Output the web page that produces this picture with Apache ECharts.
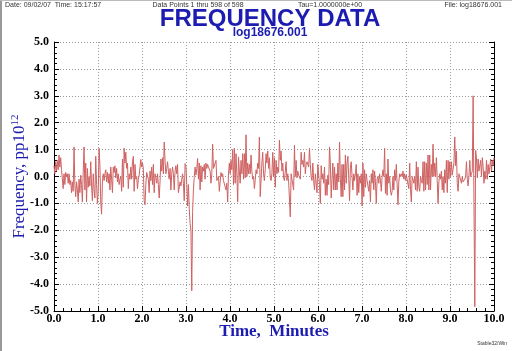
<!DOCTYPE html>
<html>
<head>
<meta charset="utf-8">
<script src="https://cdn.jsdelivr.net/npm/echarts/dist/echarts.min.js"></script>
<style>
  html, body { margin: 0; padding: 0; background: #fff; }
  #chart { width: 512px; height: 351px; }
</style>
</head>
<body>
<div id="chart"></div>
<script>
// frequency residuals, pp10^12 in four 2.5 minute quarters
const freqQ1 = [
  0.4, 0.1, 0.55, 0.2, 0.6, 0.25, 0.8, 0.35, 0.7, 0.25, 0.3, -0.45, 0.1, -0.3, 0.15, 0.0, 0.1, -0.25, 0.1, -0.3,
  -0.15, -0.6, -0.2, -0.55, 1.1, -0.3, -0.75, -0.2, -0.5, -0.95, -0.1, -0.6, 0.05, -0.3, -0.95, 0.2, 1.1, -0.5, 0.5, -0.95,
  0.3, -0.4, 0.0, -0.35, 0.55, -0.35, -0.9, 0.1, -0.5, -0.8, 0.75, -0.3, -1.0, -0.5, 1.05, 0.4, -0.95, -1.4, -0.2, 0.1,
  -0.15, 0.1, 0.25, -0.2, 0.15, -0.25, 0.1, -0.5, 0.35, -0.1, -0.6, 0.35, 0.15, 0.4, -0.05, 0.3, -0.2, 0.1, -0.3, -0.1,
  0.0, -0.55, 0.65, -0.4, 1.05, 0.5, 0.9, 0.3, 0.5, -0.45, 0.1, -0.1, 0.35, -0.1, 0.55, 0.75, -0.55, 0.45, -0.1, 0.0,
  -0.45, -0.1, 0.05, 0.0, 0.63, 0.35, 0.5, 0.3, -0.9, -1.05, -0.3, 0.15, 0.2, -0.1, -0.6, 0.2, -0.15, 0.35, -0.3, 0.45,
  -0.6, 0.1, -0.05, -0.25, 0.1, -0.3, -0.8, -0.2, 0.65, 0.2, 0.7, 0.1
]
const freqQ2 = [
  1.28, 0.6, 0.1, 0.3, 0.55, 0.2, -0.1, 0.3, -0.5, 0.1, 0.35, 0.1, -0.5, 0.2, 0.4, 0.1, 0.45, -0.6, -0.63, -0.2,
  -0.35, -0.1, 0.1, -0.25, -0.9, 0.48, 0.4, -0.3, -1.1, -0.3, -1.2, -1.75, -2.0, -4.25, -1.3, -0.5, 0.0, 0.35, 0.05, 0.3,
  0.67, -0.1, 0.5, -0.5, 0.4, -0.2, 0.35, 0.2, 0.45, -0.1, 0.5, 0.3, 0.45, 0.35, 0.3, 0.2, -0.25, 0.1, 1.2, 0.3,
  0.25, 0.5, 0.6, -0.15, -0.2, 0.0, -0.55, -0.2, 0.15, 0.0, 0.1, -0.15, -0.15, -0.1, -0.5, -0.25, -0.95, 0.1, 0.5, 0.1,
  0.6, 0.25, 1.0, -0.3, 1.05, -0.25, 0.85, 0.1, -0.95, 0.73, 0.2, -0.25, 0.6, 0.1, 0.85, -0.1, 0.85, -0.05, 1.55, 0.0,
  0.5, 0.1, 0.45, 0.1, 0.8, 0.2, -0.1, 0.0, -0.45, -0.15, 0.25, 0.1, 0.5, 0.3, 1.47, -0.75, -0.75, 0.5, 0.9, 0.1,
  -0.15, 0.25, 0.85, 0.5, 0.95, 0.3, 0.7, -0.05, -0.15, 0.1, 0.9, 0.0
]
const freqQ3 = [
  0.7, -0.4, 0.6, 0.1, 0.35, 0.15, 1.35, 0.6, 0.95, 0.2, 0.5, -0.05, -0.15, -0.2, 0.55, -0.15, 0.1, -0.2, -0.8, -1.5,
  0.1, -0.1, -0.15, -0.5, 1.16, 0.0, 0.6, -0.05, 0.2, 0.05, 0.0, -0.1, 0.9, 0.45, 0.6, 0.35, 0.9, 0.1, 0.45, 0.55,
  0.55, 0.35, 1.05, 0.45, 0.0, -0.15, 0.5, -0.15, -0.5, 0.1, 0.1, -0.6, 0.45, 0.4, -0.3, -1.0, 0.4, -0.1, 0.1, -0.25,
  0.35, -0.7, -0.1, -0.7, 0.05, -0.3, 1.1, 0.5, -0.8, -0.1, 0.5, -0.5, 0.35, -0.5, 0.1, -0.5, 0.5, -0.2, 1.28, -0.1,
  -0.75, 0.45, -0.75, 0.45, -0.5, 0.8, -0.25, 0.5, 0.75, -0.05, -0.9, 0.35, 0.55, 0.0, -0.5, 0.1, -0.15, 0.1, 0.45, -0.7,
  0.1, -0.6, 0.0, -0.25, 0.1, -1.1, 0.5, -0.75, 0.25, -0.4, 0.1, -0.15, -0.1, -0.55, -0.15, -0.95, 0.1, -0.25, 0.25, -0.5,
  0.2, -0.2, -1.0, -0.1, 0.0, -0.25, 0.1, -0.15, -0.55, 0.0, 0.25, 0.0
]
const freqQ4 = [
  1.05, -0.63, 0.1, -0.7, 0.65, -0.25, 0.0, -0.5, -0.7, -0.55, 0.0, -0.5, 0.25, -0.15, 0.45, -0.3, -1.05, -0.2, 0.1, 0.0,
  0.1, 0.0, 0.2, -0.1, 0.1, -0.15, 0.05, 0.0, 0.1, -0.45, 0.5, -0.5, -0.95, 0.0, 0.0, -0.25, 0.0, -0.5, 0.55, -0.55,
  0.35, -0.4, -0.55, 0.0, -0.15, -0.25, 0.55, -0.55, 0.55, -0.5, 0.5, -0.3, 0.8, -0.5, 0.8, -0.5, 0.45, 0.0, 1.2, 0.0,
  0.5, 0.0, 0.7, -0.15, -1.0, -0.2, 0.1, -0.1, 0.2, -0.5, 0.0, -0.6, 0.25, -0.25, 0.6, -0.6, 0.6, -0.1, 0.55, 0.0,
  0.55, 0.05, 0.0, 0.5, 1.47, 0.4, 0.95, -0.25, -0.55, 0.1, 0.05, 0.1, -0.25, 0.0, -0.2, -0.15, -0.1, 0.0, 0.55, -0.1,
  -0.35, 0.0, 0.6, 0.0, 0.1, 0.2, 3.0, -0.94, -4.84, 0.97, 0.7, -0.05, 0.65, 0.2, 0.15, 0.6, 0.0, 0.7, 0.35, -0.25,
  0.2, -0.1, 0.6, -0.1, 0.45, 0.1, 0.35, 0.65, 0.2, 0.6, 0.4, 0.7
]

const timeRange = [0, 10]      // minutes
const freqRange = [-5, 5]      // pp10^12

const headerTexts = ['Date: 09/02/07  Time: 15:17:57', 'Data Points 1 thru 598 of 598', 'Tau=1.0000000e+00', 'File: log18676.001']

const blue = '#1c1cb0'
const serif = 'Liberation Serif, Times New Roman, serif'
const sans = 'Liberation Sans, Arial, sans-serif'

let freq = freqQ1.concat(freqQ2, freqQ3, freqQ4)
let step = (timeRange[1] - timeRange[0]) / (freq.length - 1)
let points = freq.map((v, i) => [timeRange[0] + i * step, v])

let myChart = echarts.init(document.getElementById('chart'))

let tickStyle = { color: '#000', width: 1 }

let options = {
  animation: false,
  backgroundColor: '#fff',
  grid: { left: 54, right: 18, top: 42, bottom: 40, outerBoundsMode: 'none', containLabel: false },
  graphic: [
    { type: 'line', shape: { x1: 1, y1: 0, x2: 1, y2: 351 }, style: { stroke: '#999', lineWidth: 2 } },
    { type: 'line', shape: { x1: 0, y1: 0.5, x2: 512, y2: 0.5 }, style: { stroke: '#bbb', lineWidth: 1 } },
    { type: 'text', x: 5, y: 5, style: { text: headerTexts[0], font: '7px ' + sans, fill: '#333', align: 'left', verticalAlign: 'middle' } },
    { type: 'text', x: 198, y: 5, style: { text: headerTexts[1], font: '7px ' + sans, fill: '#333', align: 'center', verticalAlign: 'middle' } },
    { type: 'text', x: 330, y: 5, style: { text: headerTexts[2], font: '7px ' + sans, fill: '#333', align: 'center', verticalAlign: 'middle' } },
    { type: 'text', x: 502, y: 5, style: { text: headerTexts[3], font: '7px ' + sans, fill: '#333', align: 'right', verticalAlign: 'middle' } },
    { type: 'text', x: 270, y: 19, style: { text: 'FREQUENCY DATA', font: 'bold 24px ' + sans, fill: blue, align: 'center', verticalAlign: 'middle' } },
    { type: 'text', x: 270, y: 33, style: { text: 'log18676.001', font: 'bold 12px ' + sans, fill: blue, align: 'center', verticalAlign: 'middle' } },
    { type: 'text', x: 507, y: 344, style: { text: 'Stable32/Win', font: '5px ' + sans, fill: '#333', align: 'right', verticalAlign: 'middle' } }
  ],
  xAxis: {
    type: 'value',
    min: timeRange[0],
    max: timeRange[1],
    interval: 1,
    name: 'Time,  Minutes',
    nameLocation: 'middle',
    nameGap: 12,
    nameMoveOverlap: false,
    nameTextStyle: { fontFamily: serif, fontWeight: 'bold', fontSize: 17, color: blue, verticalAlign: 'top' },
    axisLine: { show: true, onZero: false, lineStyle: tickStyle },
    axisTick: { show: true, inside: true, length: 5, lineStyle: tickStyle },
    minorTick: { show: true, splitNumber: 5, length: 3, lineStyle: tickStyle },
    axisLabel: { formatter: v => v.toFixed(1), fontFamily: serif, fontWeight: 'bold', fontSize: 12, color: '#000', margin: 2 },
    splitLine: { show: true, lineStyle: { type: [1, 2], color: '#999' } }
  },
  yAxis: [
    {
      type: 'value',
      min: freqRange[0],
      max: freqRange[1],
      interval: 1,
      position: 'left',
      name: '{a|Frequency, pp10}{b|12}',
      nameLocation: 'middle',
      nameGap: 25,
      nameMoveOverlap: false,
      nameRotate: 90,
      nameTextStyle: {
        rich: {
          a: { fontFamily: serif, fontSize: 17, color: blue },
          b: { fontFamily: serif, fontSize: 11, color: blue, padding: [0, 0, 8, 0] }
        }
      },
      axisLine: { show: true, onZero: false, lineStyle: tickStyle },
      axisTick: { show: true, inside: true, length: 5, lineStyle: tickStyle },
      minorTick: { show: true, splitNumber: 5, length: 3, lineStyle: tickStyle },
      axisLabel: { formatter: v => v.toFixed(1), fontFamily: serif, fontWeight: 'bold', fontSize: 12, color: '#000', margin: 5 },
      splitLine: { show: true, lineStyle: { type: [1, 2], color: '#999' } }
    },
    {
      type: 'value',
      min: freqRange[0],
      max: freqRange[1],
      interval: 1,
      position: 'right',
      axisLine: { show: true, onZero: false, lineStyle: tickStyle },
      axisTick: { show: true, inside: true, length: 5, lineStyle: tickStyle },
      minorTick: { show: true, splitNumber: 5, length: 3, lineStyle: tickStyle },
      axisLabel: { show: false },
      splitLine: { show: false }
    }
  ],
  series: [
    {
      name: 'Frequency',
      type: 'line',
      data: points,
      showSymbol: false,
      sampling: null,
      lineStyle: { color: '#cf6262', width: 1 }
    }
  ]
}
myChart.setOption(options)
</script>
</body>
</html>
